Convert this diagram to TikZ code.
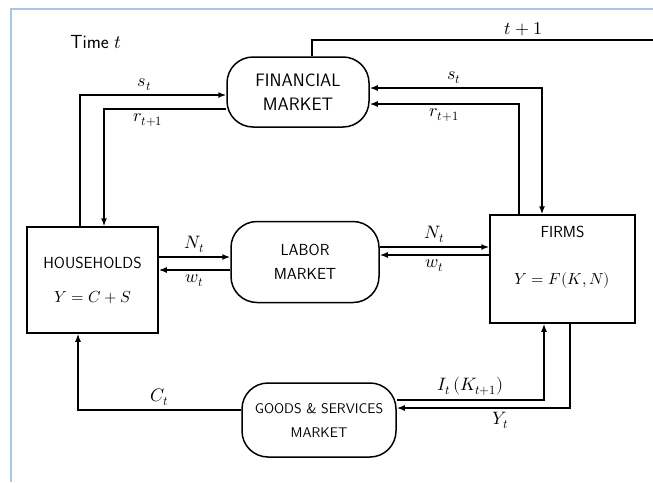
\documentclass[tikz,border=0pt]{standalone}
\usepackage{xcolor}
\usepackage{unicode-math}
\usepackage{tikz}
\usetikzlibrary{arrows.meta,positioning}
\definecolor{framecol}{RGB}{168,198,232}

\begin{document}
\begin{tikzpicture}[x=1pt, y=-1pt, line width=1.5pt, every node/.style={font=\sffamily\fontsize{16}{18}\selectfont}, lbl/.style={font=\fontsize{18}{20}\selectfont}, box/.style={draw, minimum width=131pt, minimum height=106pt}, market/.style={draw, rounded corners=26pt, align=center}, flow/.style={-{Latex[length=8pt]}}]
\useasboundingbox (0,0) rectangle (653,482);
\draw[framecol, line width=1.5pt] (11,482) -- (11,9) -- (653,9);
\node[font=\sffamily\fontsize{19}{21}\selectfont] (time) at (96,42) {Time $t$};
\node[market, minimum width=142pt, minimum height=70pt, font=\sffamily\fontsize{18}{20}\selectfont] (fin) at (298,92) {FINANCIAL\\[4pt]MARKET};
\node[market, minimum width=148pt, minimum height=81pt] (labor) at (305,262) {LABOR\\[6pt]MARKET};
\node[market, minimum width=154pt, minimum height=74pt, font=\sffamily\fontsize{14}{16}\selectfont] (goods) at (319,420) {GOODS \& SERVICES\\[8pt]MARKET};
\node[box, align=center] (hh) at (92.5,280) {HOUSEHOLDS\\[16pt]$Y = C + S$};
\node[box, minimum width=145pt, minimum height=108pt] (firms) at (562.5,269) {};
\node[below=8pt of firms.north] (firmsname) {FIRMS};
\node at ([yshift=-11pt]firms.center) (prod) {$Y = F(K,N)$};
\coordinate (next) at (653,40);
\draw ([xshift=14pt]fin.north) |- (next) node[lbl, pos=.81, above] {$t+1$};
\draw[flow] ([xshift=-12.5pt]hh.north) |- ([yshift=-3pt]fin.west) node[lbl, pos=.72, above] {$s_t$};
\draw[flow] ([yshift=-17pt]fin.west) -| ([xshift=11.5pt]hh.north) node[lbl, pos=.32, below] {$r_{t+1}$};
\draw[{Latex[length=8pt]}-{Latex[length=8pt]}] ([yshift=4pt]fin.east) -| ([xshift=-20.5pt]firms.north) node[lbl, pos=.245, above] {$s_t$};
\draw[flow] ([xshift=-43.5pt]firms.north) |- ([yshift=-12pt]fin.east) node[lbl, pos=.75, below] {$r_{t+1}$};
\draw[flow] ([yshift=23pt]hh.east) -- ([yshift=5pt]labor.west) node[lbl, midway, above] {$N_t$};
\draw[flow] ([yshift=-8pt]labor.west) -- ([yshift=10pt]hh.east) node[lbl, midway, below] {$w_t$};
\draw[flow] ([yshift=15pt]labor.east) -- ([yshift=22pt]firms.west) node[lbl, midway, above] {$N_t$};
\draw[flow] ([yshift=14pt]firms.west) -- ([yshift=7pt]labor.east) node[lbl, midway, below] {$w_t$};
\draw[flow] ([yshift=10pt]goods.west) -| ([xshift=-14.5pt]hh.south) node[lbl, pos=.25, above] {$C_t$};
\draw[flow] ([yshift=20pt]goods.east) -| ([xshift=-18.5pt]firms.south) node[lbl, pos=.25, above] {$I_t\,(K_{t+1})$};
\draw[flow] ([xshift=7.5pt]firms.south) |- ([yshift=12pt]goods.east) node[lbl, pos=.7, below] {$Y_t$};
\end{tikzpicture}
\end{document}
